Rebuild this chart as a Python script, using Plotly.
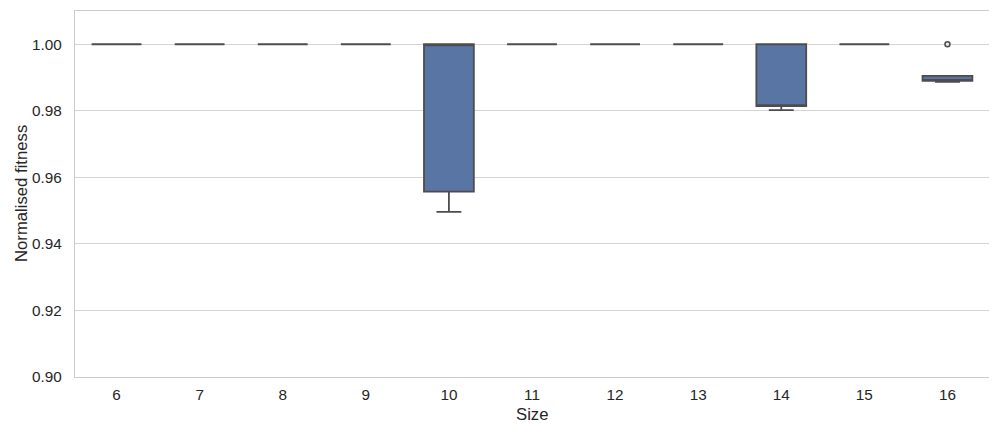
import plotly.graph_objects as go

sizes = [6, 7, 8, 9, 10, 11, 12, 13, 14, 15, 16]
q1 = [1.0, 1.0, 1.0, 1.0, 0.9557, 1.0, 1.0, 1.0, 0.9814, 1.0, 0.9890]
median = [1.0, 1.0, 1.0, 1.0, 1.0, 1.0, 1.0, 1.0, 0.9817, 1.0, 0.9892]
q3 = [1.0, 1.0, 1.0, 1.0, 1.0, 1.0, 1.0, 1.0, 1.0, 1.0, 0.9905]
lower = [1.0, 1.0, 1.0, 1.0, 0.9496, 1.0, 1.0, 1.0, 0.9802, 1.0, 0.9887]
upper = [1.0, 1.0, 1.0, 1.0, 1.0, 1.0, 1.0, 1.0, 1.0, 1.0, 0.9905]
outlier_x = [16]
outlier_y = [1.0]
yticks = [0.90, 0.92, 0.94, 0.96, 0.98, 1.00]

line_col = "#4d4d4d"
fill_col = "#5975a4"
font = "Liberation Sans, Arial, sans-serif"
tick_size = 15.3
title_size = 16.7

fig = go.Figure()
fig.add_trace(go.Box(
    x=sizes, q1=q1, median=median, q3=q3,
    lowerfence=lower, upperfence=upper,
    width=0.6, whiskerwidth=0.5,
    fillcolor=fill_col, line=dict(color=line_col, width=1.8),
    boxpoints=False, showlegend=False, hoverinfo="skip",
))
fig.add_trace(go.Scatter(
    x=outlier_x, y=outlier_y, mode="markers",
    marker=dict(symbol="circle", size=5, color="#e8e8e8",
                line=dict(color=line_col, width=1.5)),
    showlegend=False, hoverinfo="skip",
))

fig.update_layout(
    width=981, height=420,
    margin=dict(l=67, r=0, t=3, b=51, autoexpand=False),
    paper_bgcolor="white", plot_bgcolor="white",
    font=dict(family=font, size=tick_size, color="#262626"),
    xaxis=dict(
        range=[5.5, 16.5], tickmode="array", tickvals=sizes,
        ticktext=[str(s) for s in sizes],
        showgrid=False, zeroline=False, ticks="", automargin=False,
        showline=True, mirror=True, linecolor="#cccccc", linewidth=1.2,
        ticklabelstandoff=4,
    ),
    yaxis=dict(
        range=[0.9, 1.01], tickmode="array", tickvals=yticks,
        ticktext=[f"{v:.2f}" for v in yticks],
        showgrid=True, gridcolor="#d4d4d4", gridwidth=1.2,
        zeroline=False, ticks="", automargin=False,
        showline=True, mirror=True, linecolor="#cccccc", linewidth=1.2,
        ticklabelstandoff=9,
    ),
    annotations=[
        dict(text="Size", xref="paper", yref="paper", x=0.5, y=0,
             xanchor="center", yanchor="middle", yshift=-37,
             showarrow=False, font=dict(size=title_size)),
        dict(text="Normalised fitness", xref="paper", yref="paper", x=0, y=0.5,
             xanchor="center", yanchor="middle", xshift=-54, textangle=-90,
             showarrow=False, font=dict(size=title_size)),
    ],
)

fig.write_html("out.html")
